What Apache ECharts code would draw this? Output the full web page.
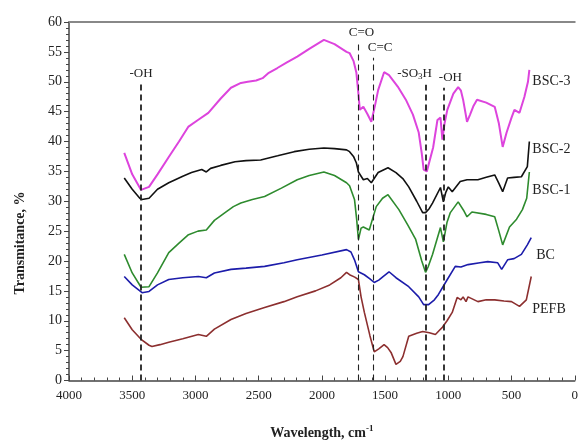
<!DOCTYPE html>
<html>
<head>
    <meta charset="UTF-8">
    <title>FTIR</title>
    <script src="https://cdn.jsdelivr.net/npm/echarts@6.0.0/dist/echarts.min.js"></script>
    <style>
        html, body { margin: 0; padding: 0; background: #fff; }
        #chart { width: 581px; height: 445px; }
    </style>
</head>
<body>
    <div id="chart"></div>
    <script>
        // [wavenumber, transmittance]
        const bsc3 = [[3563,38.1],[3500,34.5],[3430,31.9],[3367,32.4],[3300,34.5],[3211,37.4],[3130,40],[3055,42.5],[2980,43.6],[2898,44.8],[2800,47.2],[2719,49],[2640,49.8],[2586,50],[2520,50.2],[2469,50.6],[2420,51.5],[2352,52.3],[2280,53.2],[2195,54.2],[2100,55.5],[1984,57],[1900,56.3],[1805,55],[1781,54.8],[1750,53.5],[1727,51.5],[1711,48],[1700,45.3],[1672,45.8],[1640,44.6],[1609,43.3],[1580,46],[1555,48.6],[1508,51.6],[1469,51.1],[1400,49.2],[1336,47],[1280,44.5],[1234,41.5],[1210,38],[1195,35.3],[1170,35],[1156,35.3],[1120,39],[1086,43.6],[1062,44],[1047,40.3],[1030,43],[1008,45.3],[960,48],[922,49.1],[900,48.5],[883,47],[852,43.3],[828,44.5],[800,46],[773,47],[700,46.5],[633,45.8],[600,43],[570,39.1],[539,41.5],[500,44],[477,45.3],[437,44.8],[398,47.5],[370,50],[359,52]];
        const bsc2 = [[3563,33.9],[3500,32],[3440,30.5],[3422,30.3],[3367,30.5],[3300,32],[3211,33.1],[3100,34.2],[3031,34.8],[2950,35.3],[2914,34.9],[2880,35.5],[2800,36],[2687,36.6],[2600,36.8],[2484,36.9],[2350,37.6],[2219,38.3],[2100,38.7],[1984,38.9],[1900,38.8],[1805,38.6],[1781,38.3],[1750,37.5],[1727,36.4],[1711,34.9],[1672,33.6],[1640,33.8],[1609,33.1],[1555,34.8],[1477,35.6],[1414,34.8],[1360,33.8],[1313,32.4],[1250,30],[1203,28.1],[1180,28.1],[1150,28.8],[1125,29.7],[1062,32.3],[1039,29.9],[1020,31.5],[1000,32.4],[969,31.6],[906,33.3],[852,33.6],[766,33.6],[700,34],[633,34.4],[600,33],[570,31.6],[531,33.9],[480,34],[422,34.1],[375,35.8],[359,40]];
        const bsc1 = [[3563,21.1],[3500,18],[3430,15.6],[3422,15.5],[3367,15.7],[3300,18],[3211,21.4],[3130,23],[3055,24.4],[2980,25],[2914,25.2],[2850,26.8],[2766,28.1],[2700,29.1],[2641,29.7],[2550,30.3],[2453,30.8],[2320,32.2],[2195,33.6],[2100,34.3],[1984,34.9],[1900,34.3],[1805,33.1],[1781,32.6],[1742,30.3],[1725,27],[1711,23.6],[1690,25.5],[1672,25.7],[1625,25.2],[1600,27],[1570,29.1],[1520,30.5],[1477,31.1],[1391,28.6],[1320,26],[1258,23.6],[1210,20],[1180,18.1],[1160,19],[1125,21.1],[1062,25.6],[1039,23.2],[1010,26.5],[984,28.1],[922,29.9],[880,28.5],[852,27.4],[813,28.2],[700,27.8],[633,27.4],[600,25],[570,22.7],[516,25.7],[460,27],[414,28.6],[380,30.5],[359,34.9]];
        const bc = [[3563,17.4],[3500,16],[3422,14.7],[3367,14.9],[3300,16],[3211,16.9],[3100,17.2],[2977,17.4],[2914,17.2],[2850,18],[2719,18.6],[2600,18.8],[2453,19.1],[2300,19.7],[2195,20.2],[2000,21],[1805,21.9],[1770,21.5],[1742,20.2],[1711,18.2],[1664,17.7],[1620,17],[1586,16.4],[1550,16.8],[1516,17.4],[1469,18.2],[1414,17.2],[1313,15.7],[1234,14],[1195,12.7],[1156,12.7],[1110,13.5],[1078,14.4],[1008,16.9],[945,19.1],[900,19],[844,19.4],[750,19.7],[688,19.9],[609,19.7],[578,18.6],[531,20.2],[480,20.4],[422,21.1],[375,22.7],[344,23.9]];
        const pefb = [[3563,10.5],[3500,8.5],[3430,6.9],[3367,5.9],[3344,5.7],[3280,6],[3211,6.4],[3100,7],[2977,7.7],[2914,7.4],[2850,8.6],[2719,10.2],[2600,11.2],[2453,12.2],[2300,13.2],[2195,14],[2050,15],[1938,16],[1850,17.2],[1805,18.1],[1781,17.7],[1740,17.3],[1711,16.9],[1690,14],[1664,11.4],[1620,7.5],[1586,4.8],[1550,5.3],[1508,6],[1480,5.5],[1453,4.7],[1414,2.7],[1380,3.2],[1359,4],[1313,7.4],[1250,7.9],[1203,8.2],[1150,8],[1102,7.7],[1070,8.4],[1047,8.9],[1010,10],[969,11.4],[930,13.9],[900,13.5],[883,14],[860,13.2],[844,14],[766,13.2],[700,13.5],[633,13.5],[560,13.3],[500,13.2],[437,12.4],[383,13.5],[344,17.4]];

        const seriesNames = ['BSC-3', 'BSC-2', 'BSC-1', 'BC', 'PEFB'];
        const seriesColors = ['#dd44dd', '#111111', '#2e8b2e', '#1c1caa', '#8c2f2f'];
        const labelOffsets = [[0, 12], [0, 8], [0, 18], [2, 18], [-2, 33]];

        // assigned peaks (dashed guide lines)
        const peakWaves = [3430, 1711, 1594, 1180, 1039];
        const peakTops = [49.6, 56.5, 54, 49.5, 49];
        const peakLabels = ['-OH', 'C=O', 'C=C', '-SO{s|3}H', '-OH'];
        const peakLabelDx = [0, 3, 7, -11, 7];
        const peakWidths = [1.8, 1.1, 1.1, 1.8, 1.8];

        const serif = 'Liberation Serif';
        const chart = echarts.init(document.getElementById('chart'));

        const lineSeries = [bsc3, bsc2, bsc1, bc, pefb].map((d, i) => ({
            name: seriesNames[i],
            type: 'line',
            data: d,
            symbol: 'none',
            lineStyle: { color: seriesColors[i], width: i === 0 ? 2 : 1.6 },
            markPoint: {
                symbol: 'circle',
                symbolSize: 0,
                silent: true,
                animation: false,
                data: [{ coord: d[d.length - 1] }],
                label: {
                    show: true,
                    position: 'right',
                    distance: 3,
                    offset: labelOffsets[i],
                    formatter: seriesNames[i],
                    color: '#222',
                    fontFamily: serif,
                    fontSize: 14
                }
            },
            z: 3
        }));

        const markSeries = {
            type: 'line',
            data: [],
            silent: true,
            markLine: {
                symbol: ['none', 'none'],
                animation: false,
                data: peakWaves.map((w, i) => [
                    { coord: [w, 0], lineStyle: { width: peakWidths[i] } },
                    {
                        coord: [w, peakTops[i]],
                        label: { offset: [peakLabelDx[i], 0] }
                    }
                ]),
                lineStyle: { color: '#222', type: [6, 4], width: 1.5 },
                label: {
                    show: true,
                    position: 'end',
                    distance: 4,
                    formatter: p => peakLabels[p.dataIndex],
                    color: '#222',
                    fontFamily: serif,
                    fontSize: 13,
                    rich: { s: { fontSize: 9, verticalAlign: 'bottom', padding: [6, 0, 0, 0], fontFamily: serif, color: '#222' } }
                }
            }
        };

        chart.setOption({
            animation: false,
            grid: { left: 69, right: 0, top: 22, bottom: 64 },
            xAxis: [{
                type: 'value',
                inverse: true,
                min: 0,
                max: 4000,
                interval: 500,
                name: 'Wavelength, cm{sup|-1}',
                nameLocation: 'middle',
                nameGap: 44,
                nameTextStyle: {
                    fontFamily: serif, fontSize: 14, fontWeight: 'bold', color: '#222',
                    rich: { sup: { fontSize: 9, fontWeight: 'bold', verticalAlign: 'top', padding: [0, 0, 8, 0], fontFamily: serif, color: '#222' } }
                },
                axisLine: { onZero: false, lineStyle: { color: '#444', width: 1.5 } },
                axisTick: { inside: true, length: 5, lineStyle: { color: '#444' } },
                minorTick: { show: true, splitNumber: 5, length: 3, lineStyle: { color: '#444' } },
                axisLabel: { fontFamily: serif, fontSize: 13, color: '#222', margin: 9, formatter: v => String(v) },
                splitLine: { show: false }
            }, {
                type: 'value',
                position: 'top',
                min: 0,
                max: 4000,
                axisLine: { show: true, onZero: false, lineStyle: { color: '#888', width: 2 } },
                axisTick: { show: false },
                axisLabel: { show: false },
                splitLine: { show: false }
            }],
            yAxis: {
                type: 'value',
                min: 0,
                max: 60,
                interval: 5,
                axisLine: { show: true, onZero: false, lineStyle: { color: '#444', width: 1.5 } },
                axisTick: { show: true, length: 5, lineStyle: { color: '#444' } },
                minorTick: { show: true, splitNumber: 5, length: 3, lineStyle: { color: '#444' } },
                axisLabel: { fontFamily: serif, fontSize: 14, color: '#222', margin: 7 },
                splitLine: { show: false }
            },
            graphic: [{
                type: 'text',
                x: 20,
                y: 243,
                rotation: Math.PI / 2,
                style: {
                    text: 'Transmitance, %',
                    fontFamily: serif,
                    fontSize: 14,
                    fontWeight: 'bold',
                    fill: '#222',
                    align: 'center',
                    verticalAlign: 'middle'
                }
            }],
            series: lineSeries.concat([markSeries])
        });
    </script>
</body>
</html>
